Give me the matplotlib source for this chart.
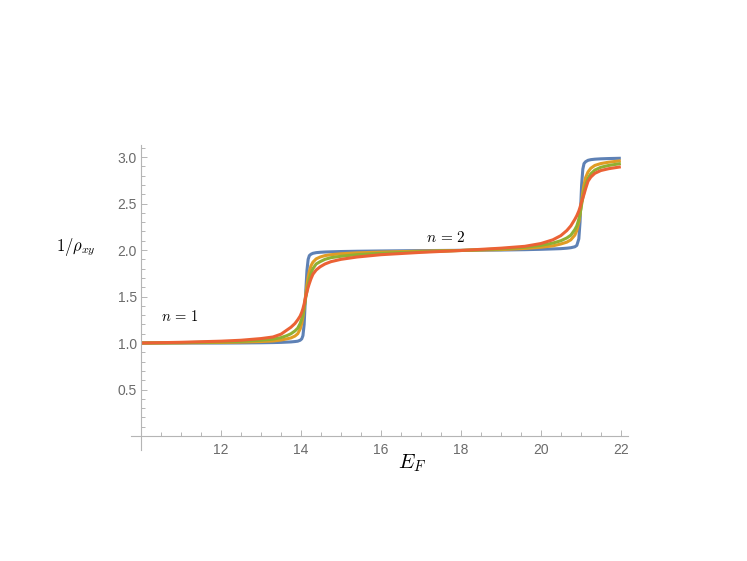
import matplotlib.pyplot as plt
from matplotlib.ticker import FixedLocator

plt.rcParams['mathtext.fontset'] = 'cm'

# sampled Fermi energies (denser near the two steps)
ef = [10.0, 11.0, 12.0, 12.5, 13.0, 13.3, 13.5, 13.65, 13.75, 13.85, 13.92, 13.98,
      14.02, 14.05, 14.08, 14.1, 14.12, 14.15, 14.18, 14.21, 14.25, 14.3, 14.38,
      14.48, 14.6, 14.75, 15.0, 15.4, 16.0, 17.0, 18.0, 19.0, 19.6, 20.0, 20.3,
      20.5, 20.65, 20.75, 20.85, 20.9, 20.95, 20.98, 21.0, 21.02, 21.05, 21.08,
      21.12, 21.18, 21.25, 21.35, 21.5, 21.7, 22.0]

# 1/rho_xy for increasing broadening
blue = [1.0, 1.0, 1.0, 1.001, 1.003, 1.005, 1.007, 1.01, 1.012, 1.016, 1.02, 1.03,
        1.045, 1.08, 1.2, 1.38, 1.55, 1.78, 1.9, 1.94, 1.955, 1.965, 1.972,
        1.976, 1.979, 1.981, 1.984, 1.987, 1.99, 1.994, 1.997, 2.0, 2.004, 2.008, 2.012,
        2.015, 2.02, 2.025, 2.035, 2.05, 2.12, 2.3, 2.5, 2.7, 2.87, 2.93,
        2.95, 2.965, 2.972, 2.977, 2.981, 2.984, 2.987]
orange = [1.0, 1.002, 1.006, 1.01, 1.016, 1.022, 1.032, 1.045, 1.055, 1.075, 1.1, 1.15,
          1.21, 1.28, 1.38, 1.45, 1.52, 1.62, 1.71, 1.77, 1.83, 1.87, 1.905,
          1.925, 1.94, 1.95, 1.96, 1.97, 1.978, 1.988, 1.996, 2.005, 2.017, 2.03, 2.045,
          2.065, 2.085, 2.11, 2.16, 2.21, 2.3, 2.38, 2.45, 2.52, 2.62, 2.7,
          2.78, 2.84, 2.88, 2.91, 2.93, 2.945, 2.96]
green = [1.0, 1.004, 1.012, 1.018, 1.03, 1.042, 1.058, 1.08, 1.1, 1.13, 1.16, 1.21,
         1.26, 1.31, 1.38, 1.43, 1.49, 1.56, 1.63, 1.69, 1.75, 1.8, 1.85,
         1.875, 1.9, 1.918, 1.933, 1.95, 1.965, 1.982, 1.995, 2.012, 2.03, 2.05, 2.075,
         2.1, 2.13, 2.16, 2.22, 2.26, 2.33, 2.39, 2.44, 2.49, 2.56, 2.63,
         2.7, 2.77, 2.82, 2.86, 2.89, 2.91, 2.93]
red = [1.0, 1.008, 1.02, 1.03, 1.048, 1.065, 1.095, 1.14, 1.17, 1.21, 1.25, 1.29,
       1.33, 1.37, 1.42, 1.46, 1.5, 1.55, 1.6, 1.64, 1.69, 1.74, 1.785,
       1.82, 1.85, 1.875, 1.9, 1.925, 1.95, 1.975, 1.995, 2.02, 2.04, 2.07, 2.11,
       2.155, 2.21, 2.26, 2.33, 2.37, 2.42, 2.46, 2.49, 2.52, 2.56, 2.6,
       2.66, 2.74, 2.785, 2.825, 2.855, 2.875, 2.895]

colors = ['#5E81B5', '#E19C24', '#8FB032', '#EB6235']

fig = plt.figure(figsize=(7.47, 5.61), dpi=100)
ax = fig.add_axes([0.1754, 0.1979, 0.6653, 0.5437])

for ys, c in zip([blue, orange, green, red], colors):
    ax.plot(ef, ys, color=c, lw=2.2, solid_capstyle='butt')

ax.set_xlim(9.75, 22.18)
ax.set_ylim(-0.15, 3.13)

# Mathematica-style axes crossing at (10, 0)
for s in ['top', 'right']:
    ax.spines[s].set_visible(False)
ax.spines['left'].set_position(('data', 10))
ax.spines['bottom'].set_position(('data', 0))
for s in ['left', 'bottom']:
    ax.spines[s].set_color('#b5b5b5')
    ax.spines[s].set_linewidth(0.8)

ax.xaxis.set_major_locator(FixedLocator([12, 14, 16, 18, 20, 22]))
ax.xaxis.set_minor_locator(FixedLocator([10, 10.5, 11, 11.5, 12.5, 13, 13.5, 14.5, 15, 15.5,
                                         16.5, 17, 17.5, 18.5, 19, 19.5, 20.5, 21, 21.5]))
ax.yaxis.set_major_locator(FixedLocator([0.5, 1.0, 1.5, 2.0, 2.5, 3.0]))
ax.yaxis.set_minor_locator(FixedLocator([i / 10 for i in range(1, 32) if i % 5 != 0]))
ax.set_xticklabels(['12', '14', '16', '18', '20', '22'])
ax.set_yticklabels(['0.5', '1.0', '1.5', '2.0', '2.5', '3.0'])

ax.tick_params(which='both', direction='in', color='#b5b5b5', width=0.7,
               labelcolor='#6b6b6b', labelsize=10)
ax.tick_params(which='major', length=4.5)
ax.tick_params(which='minor', length=2.7)
ax.tick_params(axis='x', pad=5.0)
ax.tick_params(axis='y', pad=3)
for lab in ax.get_xticklabels() + ax.get_yticklabels():
    lab.set_family('Liberation Sans')

ax.text(10.98, 1.28, r'$n\,=\,1$', fontsize=10.5, ha='center', va='center')
ax.text(17.63, 2.14, r'$n\,=\,2$', fontsize=11, ha='center', va='center')

fig.text(76 / 747, 1 - 247 / 561, r'$1/\rho_{xy}$', fontsize=12, ha='center', va='center')
fig.text(412 / 747, 1 - 463 / 561, r'$E_F$', fontsize=15, ha='center', va='center')

fig.savefig('out.png', dpi=100)
